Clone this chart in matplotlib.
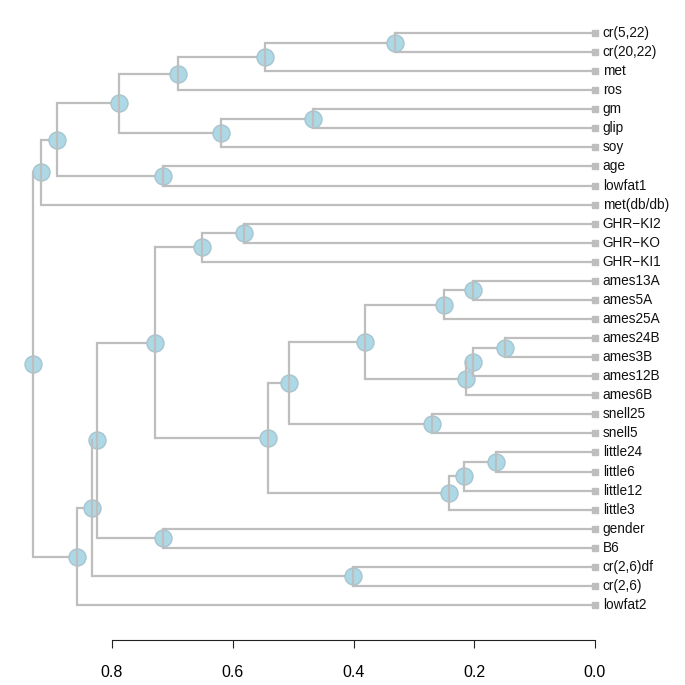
import matplotlib
matplotlib.use("Agg")
import matplotlib.pyplot as plt

plt.rcParams['font.family'] = ['Liberation Sans', 'DejaVu Sans']

# Leaves, top to bottom
leaves = ["cr(5,22)", "cr(20,22)", "met", "ros", "gm", "glip", "soy", "age",
          "lowfat1", "met(db/db)", "GHR\u2212KI2", "GHR\u2212KO", "GHR\u2212KI1",
          "ames13A", "ames5A", "ames25A", "ames24B", "ames3B", "ames12B",
          "ames6B", "snell25", "snell5", "little24", "little6", "little12",
          "little3", "gender", "B6", "cr(2,6)df", "cr(2,6)", "lowfat2"]

# Merges: (left child, right child); str = leaf, int = earlier merge index
merge_left = ["cr(5,22)", 0, 1, "gm", 3, 2, "age", 5, 7,
              "GHR\u2212KI2", 9, "ames13A", 11, "ames24B", 13, 14, 12,
              "snell25", 16, "little24", 19, 20, 18, 10, "gender", 23,
              "cr(2,6)df", 25, 27, 8]
merge_right = ["cr(20,22)", "met", "ros", "glip", "soy", 4, "lowfat1", 6,
               "met(db/db)", "GHR\u2212KO", "GHR\u2212KI1", "ames5A",
               "ames25A", "ames3B", "ames12B", "ames6B", 15, "snell5", 17,
               "little6", "little12", "little3", 21, 22, "B6", 24, "cr(2,6)",
               26, "lowfat2", 28]
merge_height = [0.331, 0.547, 0.691, 0.467, 0.619, 0.788, 0.716, 0.891, 0.918,
                0.581, 0.651, 0.202, 0.250, 0.149, 0.202, 0.214, 0.381,
                0.270, 0.507, 0.164, 0.217, 0.242, 0.542, 0.729, 0.716,
                0.825, 0.401, 0.833, 0.858, 0.931]

xticks = [0.8, 0.6, 0.4, 0.2, 0.0]

LINE = "#BEBEBE"
FILL = "#ADD8E6"
EDGE = "#A8C4CE"

fig = plt.figure(figsize=(6.85, 6.85), dpi=100)
W = H = 685.0
left_px, right_px, top_px, bot_px = 20, 595, 20, 620
ax = fig.add_axes([left_px / W, 1 - bot_px / H, (right_px - left_px) / W,
                   (bot_px - top_px) / H])

leaf_pos = {name: i for i, name in enumerate(leaves)}
node_y = []


def pos(c):
    if isinstance(c, str):
        return leaf_pos[c], 0.0
    return node_y[c], merge_height[c]


for i in range(len(merge_height)):
    h = merge_height[i]
    yl, hl = pos(merge_left[i])
    yr, hr = pos(merge_right[i])
    node_y.append((yl + yr) / 2)
    # horizontals
    ax.plot([h, hl], [yl, yl], color=LINE, lw=1.6, zorder=1,
            solid_capstyle='butt')
    ax.plot([h, hr], [yr, yr], color=LINE, lw=1.6, zorder=1,
            solid_capstyle='butt')
    # vertical
    ax.plot([h, h], [yl, yr], color=LINE, lw=1.6, zorder=3,
            solid_capstyle='projecting')
    ax.scatter([h], [(yl + yr) / 2], s=150, facecolor=FILL, edgecolor=EDGE,
               linewidths=1.0, zorder=2)

# leaf markers and labels
for i, name in enumerate(leaves):
    ax.plot([0], [i], marker='s', ms=4.5, color=LINE, mec=LINE, zorder=4,
            clip_on=False)
    ax.text(-0.013, i, name, ha='left', va='center', fontsize=9.8,
            color='#111111', clip_on=False)

n = len(leaves)
ax.set_xlim((595 - left_px) / 603.75, 0)
ax.set_ylim(n - 1 + (bot_px - 605) / 19.07, -(33 - top_px) / 19.07)

for s in ['top', 'right', 'left']:
    ax.spines[s].set_visible(False)
ax.spines['bottom'].set_position(('outward', 14.4))
ax.spines['bottom'].set_bounds(0.0, 0.8)
ax.spines['bottom'].set_color('#222222')
ax.set_yticks([])
ax.set_xticks(xticks)
ax.set_xticklabels([f"{t:.1f}" for t in xticks])
ax.tick_params(axis='x', length=6, width=0.8, color='#222222',
               labelsize=11.5, pad=12)

fig.savefig("out.png", dpi=100)
